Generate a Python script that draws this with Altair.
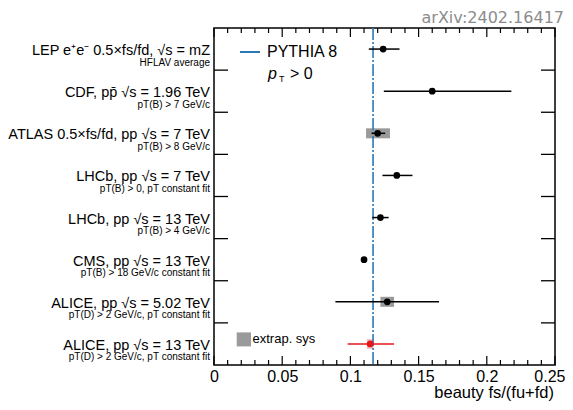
import altair as alt
import pandas as pd

# ---------------- data ----------------
experiments = ["LEP", "CDF", "ATLAS", "LHCb7", "LHCb13", "CMS", "ALICE5", "ALICE13"]
main_labels = [
    "LEP  e\u207ae\u207b 0.5\u00d7fs/fd, \u221as = mZ",
    "CDF, pp\u0304 \u221as = 1.96 TeV",
    "ATLAS 0.5\u00d7fs/fd, pp \u221as = 7 TeV",
    "LHCb, pp \u221as = 7 TeV",
    "LHCb, pp \u221as = 13 TeV",
    "CMS, pp \u221as = 13 TeV",
    "ALICE, pp \u221as = 5.02 TeV",
    "ALICE, pp \u221as = 13 TeV",
]
sub_labels = [
    "HFLAV average",
    "pT(B) > 7 GeV/c",
    "pT(B) > 8 GeV/c",
    "pT(B) > 0, pT constant fit",
    "pT(B) > 4 GeV/c",
    "pT(B) > 18 GeV/c constant fit",
    "pT(D) > 2 GeV/c, pT constant fit",
    "pT(D) > 2 GeV/c, pT constant fit",
]
values = [0.124, 0.160, 0.120, 0.134, 0.122, 0.110, 0.127, 0.1145]
err_lo = [0.1135, 0.1245, 0.1155, 0.1235, 0.116, 0.109, 0.089, 0.098]
err_hi = [0.136, 0.218, 0.1255, 0.1455, 0.128, 0.111, 0.165, 0.132]
point_colors = ["black"] * 7 + ["#e3191c"]

box_rows = ["ATLAS", "ALICE5", "ALICE13"]
box_lo = [0.1115, 0.122, 0.112]
box_hi = [0.129, 0.132, 0.117]
box_colors = ["#9a9a9a", "#9a9a9a", "#f6c4c4"]

pythia_value = 0.1166

major_ticks = [0, 0.05, 0.1, 0.15, 0.2, 0.25]
minor_ticks = [0.01, 0.02, 0.03, 0.04, 0.06, 0.07, 0.08, 0.09, 0.11, 0.12, 0.13, 0.14,
               0.16, 0.17, 0.18, 0.19, 0.21, 0.22, 0.23, 0.24]

# ---------------- tables ----------------
df = pd.DataFrame({
    "exp": experiments, "main": main_labels, "sub": sub_labels,
    "v": values, "lo": err_lo, "hi": err_hi, "c": point_colors,
})
df_box = pd.DataFrame({"exp": box_rows, "lo": box_lo, "hi": box_hi, "c": box_colors})
df_bound = pd.DataFrame({"exp": experiments[1:]})
df_major = pd.DataFrame({"t": major_ticks})
df_minor = pd.DataFrame({"t": minor_ticks})
df_one = pd.DataFrame({"a": [0]})
df_py = pd.DataFrame({"p": [pythia_value]})

FONT = "Liberation Sans"
W, H = 341, 337
xs = alt.Scale(domain=[0, 0.25], nice=False, zero=False)
ys = alt.Scale(domain=experiments, paddingInner=0, paddingOuter=0)
AX = alt.Axis(values=major_ticks, format="~g", title=None, ticks=False,
              domain=False, grid=False, labelFontSize=16, labelFont=FONT,
              labelColor="black", labelPadding=3, labelFlush=False,
              labelAlign={"condition": {"test": "datum.value >= 0.25", "value": "right"},
                          "value": "center"},
              labelOffset={"condition": {"test": "datum.value >= 0.25", "value": 10},
                           "value": 0})


def X(field):
    return alt.X(field, scale=xs, axis=AX)


def Y(**kw):
    return alt.Y("exp:N", scale=ys, axis=None, **kw)


boxes = alt.Chart(df_box).mark_bar(size=10).encode(
    x=X("lo:Q"), x2="hi:Q", y=Y(), color=alt.Color("c:N", scale=None))

pythia = alt.Chart(df_py).mark_rule(color="#2a7ab8", strokeWidth=1.6,
                                     strokeDash=[12, 2, 2, 2]).encode(x=X("p:Q"))

errs = alt.Chart(df).mark_rule(strokeWidth=1.5).encode(
    x=X("lo:Q"), x2="hi:Q", y=Y(), color=alt.Color("c:N", scale=None))

points = alt.Chart(df).mark_circle(size=45, opacity=1).encode(
    x=X("v:Q"), y=Y(), color=alt.Color("c:N", scale=None))

main_txt = alt.Chart(df).mark_text(align="right", baseline="alphabetic", dy=6,
                                   fontSize=14.5, font=FONT, color="black").encode(
    x=alt.value(-4), y=Y(), text="main:N")
sub_txt = alt.Chart(df).mark_text(align="right", baseline="alphabetic", dy=16.5,
                                  fontSize=10, font=FONT, color="black").encode(
    x=alt.value(-4), y=Y(), text="sub:N")

ytick_l = alt.Chart(df_bound).mark_rule(color="black", strokeWidth=1.3).encode(
    y=Y(bandPosition=0), x=alt.value(0), x2=alt.value(14))
ytick_r = alt.Chart(df_bound).mark_rule(color="black", strokeWidth=1.3).encode(
    y=Y(bandPosition=0), x=alt.value(W - 14), x2=alt.value(W))

xt = []
for d, ln in ((df_major, 9), (df_minor, 5)):
    xt.append(alt.Chart(d).mark_rule(color="black", strokeWidth=1.2).encode(
        x=X("t:Q"), y=alt.value(H), y2=alt.value(H - ln)))
    xt.append(alt.Chart(d).mark_rule(color="black", strokeWidth=1.2).encode(
        x=X("t:Q"), y=alt.value(0), y2=alt.value(ln)))

deco = alt.Chart(df_one)
leg_line = deco.mark_rule(color="#2a7ab8", strokeWidth=2).encode(
    x=alt.value(26), x2=alt.value(46), y=alt.value(24))
leg_py = deco.mark_text(align="left", baseline="middle", fontSize=16, font=FONT,
                        text="PYTHIA 8").encode(x=alt.value(53), y=alt.value(24))
leg_p = deco.mark_text(align="left", baseline="middle", fontSize=16, font=FONT,
                       fontStyle="italic", text="p").encode(x=alt.value(54), y=alt.value(46))
leg_T = deco.mark_text(align="left", baseline="middle", fontSize=9, font=FONT,
                       text="T").encode(x=alt.value(65), y=alt.value(51))
leg_gt = deco.mark_text(align="left", baseline="middle", fontSize=16, font=FONT,
                        text="> 0").encode(x=alt.value(76), y=alt.value(46))
leg_box = deco.mark_rect(color="#9a9a9a").encode(
    x=alt.value(22.7), x2=alt.value(37), y=alt.value(304.4), y2=alt.value(318.4))
leg_boxt = deco.mark_text(align="left", baseline="middle", fontSize=13, font=FONT,
                          text="extrap. sys").encode(x=alt.value(38.5), y=alt.value(311))
xtitle = deco.mark_text(align="right", baseline="alphabetic", fontSize=16.5, font=FONT,
                        text="beauty fs/(fu+fd)").encode(x=alt.value(W - 1), y=alt.value(370))
arxiv = deco.mark_text(align="right", baseline="alphabetic", fontSize=16, font="DejaVu Sans",
                       color="#8c8c8c", text="arXiv:2402.16417").encode(
    x=alt.value(350), y=alt.value(-5))

chart = alt.layer(
    boxes, pythia, errs, points, main_txt, sub_txt, ytick_l, ytick_r, *xt,
    leg_line, leg_py, leg_p, leg_T, leg_gt, leg_box, leg_boxt, xtitle, arxiv,
).properties(
    width=W, height=H,
    padding={"left": 206, "top": 20, "right": 10, "bottom": 37},
    autosize=alt.AutoSizeParams(type="none"),
    background="white",
).configure_view(stroke="black", strokeWidth=1.5)

chart.save("out.html", embed_options={"renderer": "svg", "actions": False})
